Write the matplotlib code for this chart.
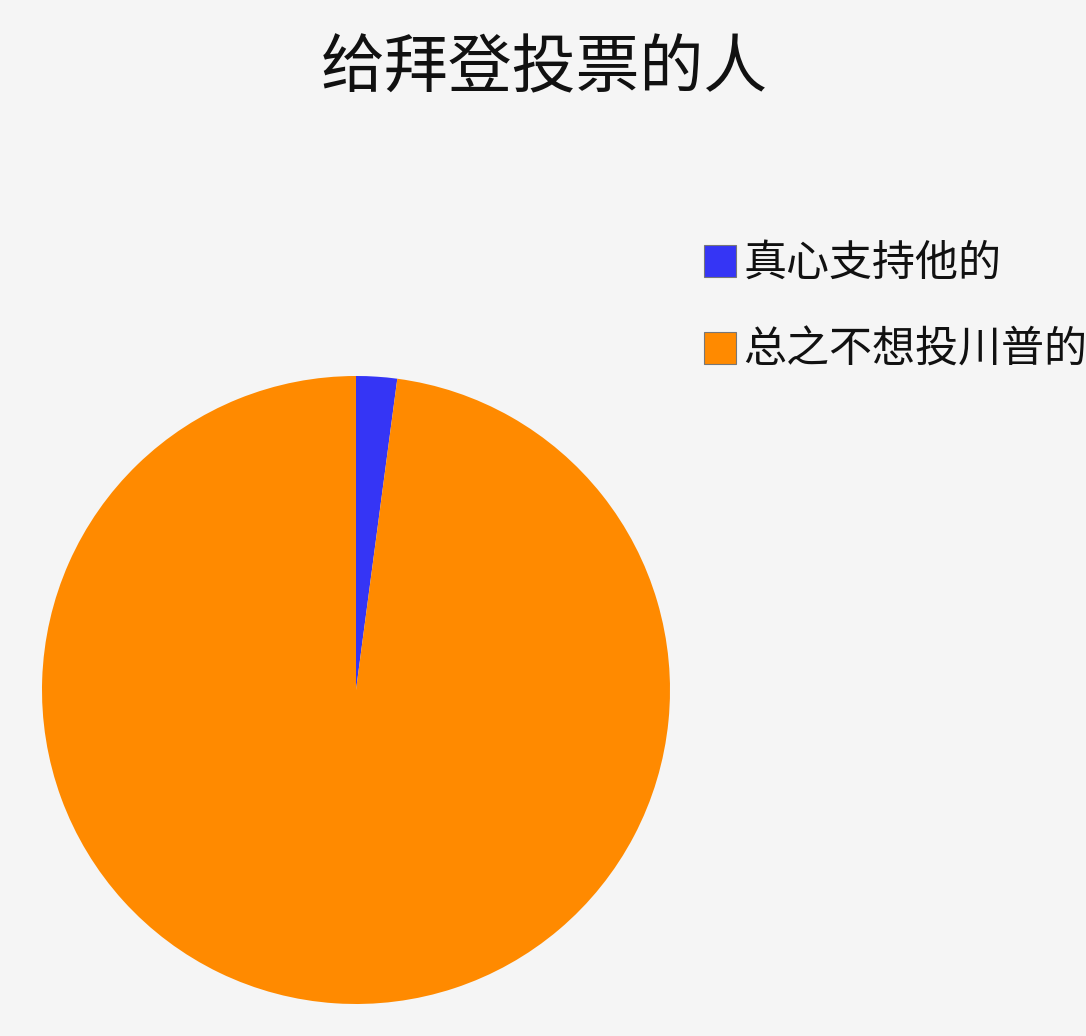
import matplotlib
matplotlib.use("Agg")
import matplotlib.pyplot as plt
from matplotlib.patches import Patch

plt.rcParams['font.family'] = ['Noto Sans CJK SC', 'DejaVu Sans']

title = "给拜登投票的人"
labels = ["真心支持他的", "总之不想投川普的"]
values = [2.1, 97.9]
colors = ["#3535F5", "#FF8A00"]
bg = "#F5F5F5"

W, H = 1086, 1036
fig = plt.figure(figsize=(W / 100, H / 100), dpi=100, facecolor=bg)

cx, cy, r = 356, 690, 314
ax = fig.add_axes([(cx - r) / W, (H - cy - r) / H, 2 * r / W, 2 * r / H])
ax.set_facecolor(bg)
ax.pie(values, colors=colors, startangle=90, counterclock=False, radius=1,
       wedgeprops=dict(linewidth=0))
ax.set_xlim(-1, 1)
ax.set_ylim(-1, 1)
ax.set_aspect('equal')
ax.axis('off')

fig.text(544 / W, 1 - 69 / H, title, ha='center', va='center', fontsize=46, color='#111111')

handles = [Patch(facecolor=c, edgecolor='#777777', linewidth=0.8) for c in colors]
leg = fig.legend(handles, labels, loc='upper left', bbox_to_anchor=(704 / W, 1 - 242 / H),
                 frameon=False, fontsize=31, handlelength=0.75, handleheight=0.75,
                 handletextpad=0.17, labelspacing=1.0, borderpad=0, borderaxespad=0)
for t in leg.get_texts():
    t.set_color('#111111')

fig.savefig("out.png", dpi=100, facecolor=bg)
